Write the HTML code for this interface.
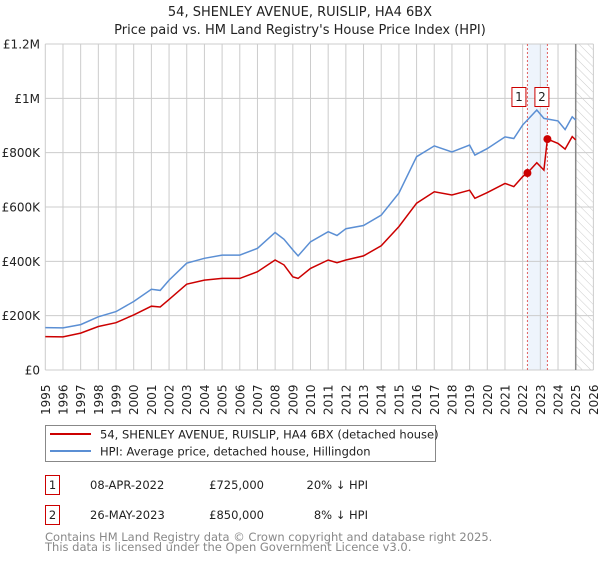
<!DOCTYPE html>
<html><head><meta charset="utf-8"><style>
body{margin:0;background:#fff;font-family:"Liberation Sans","DejaVu Sans",sans-serif;}
svg text{font-family:"DejaVu Sans","Liberation Sans",sans-serif;}
</style></head><body>
<svg id="c" width="600" height="560" viewBox="0 0 600 560" xmlns="http://www.w3.org/2000/svg">
<defs><pattern id="hatch" width="6" height="6" patternUnits="userSpaceOnUse" patternTransform="rotate(-45)"><line x1="0" y1="0" x2="0" y2="6" stroke="#ccc" stroke-width="1"/></pattern></defs>
<text x="300" y="16" text-anchor="middle" font-size="13" fill="#222">54, SHENLEY AVENUE, RUISLIP, HA4 6BX</text>
<text x="300" y="34" text-anchor="middle" font-size="13" fill="#222">Price paid vs. HM Land Registry's House Price Index (HPI)</text>
<g id="grid"></g><g id="marks"></g><g id="axes"></g>
<g>
<rect x="45.5" y="425.5" width="390" height="36" fill="#fff" stroke="#888"/>
<line x1="50" y1="434" x2="91" y2="434" stroke="#cc0000" stroke-width="2"/>
<text x="100" y="438.5" font-size="11.5" fill="#222">54, SHENLEY AVENUE, RUISLIP, HA4 6BX (detached house)</text>
<line x1="50" y1="451" x2="91" y2="451" stroke="#5b8fd4" stroke-width="2"/>
<text x="100" y="455.5" font-size="11.5" fill="#222">HPI: Average price, detached house, Hillingdon</text>
</g>
<g font-size="11.5" fill="#222">
<rect x="45.5" y="475.5" width="14" height="19" fill="#fff" stroke="#cc0000"/><text x="52.5" y="489" text-anchor="middle">1</text>
<text x="90" y="489">08-APR-2022</text><text x="264" y="489" text-anchor="end">£725,000</text><text x="368" y="489" text-anchor="end">20% ↓ HPI</text>
<rect x="45.5" y="505.5" width="14" height="19" fill="#fff" stroke="#cc0000"/><text x="52.5" y="519" text-anchor="middle">2</text>
<text x="90" y="519">26-MAY-2023</text><text x="264" y="519" text-anchor="end">£850,000</text><text x="368" y="519" text-anchor="end">8% ↓ HPI</text>
</g>
<text x="45" y="541" font-size="11.5" fill="#888">Contains HM Land Registry data © Crown copyright and database right 2025.</text>
<text x="45" y="551" font-size="11.5" fill="#888">This data is licensed under the Open Government Licence v3.0.</text>
</svg>
<script>
const hpiYears=[1995,1996,1997,1998,1999,2000,2001,2001.5,2002,2003,2004,2005,2006,2007,2008,2008.5,2009,2009.3,2010,2011,2011.5,2012,2013,2014,2015,2016,2017,2018,2019,2019.3,2020,2021,2021.5,2022,2022.8,2023.2,2024,2024.4,2024.8,2025];
const hpiValues=[156,155,167,196,215,252,297,293,331,393,411,423,423,448,506,481,442,420,472,509,495,520,532,570,651,785,825,803,828,791,815,858,852,902,957,926,917,885,932,920];
const redYears=[1995,1996,1997,1998,1999,2000,2001,2001.5,2002,2003,2004,2005,2006,2007,2008,2008.5,2009,2009.3,2010,2011,2011.5,2012,2013,2014,2015,2016,2017,2018,2019,2019.3,2020,2021,2021.5,2022,2022.27,2022.8,2023.2,2023.4,2024,2024.4,2024.8,2025];
const redValues=[123,122,136,160,174,203,235,232,260,316,331,337,337,362,405,387,343,337,374,405,395,405,420,457,528,614,656,644,662,632,653,687,675,712,725,763,736,850,834,813,859,847];
const saleYears=[2022.27,2023.4];
const saleValues=[725,850];
const yTicks=[0,200,400,600,800,1000,1200];
const yTickLabels=["£0","£200K","£400K","£600K","£800K","£1M","£1.2M"];
const xTicks=[];for(let y=1995;y<=2026;y++)xTicks.push(y);

const X0=45.3,PX=17.68,Y0=370,PY=326/1200;
const sx=v=>X0+(v-1995)*PX, sy=v=>Y0-v*PY;
const NS="http://www.w3.org/2000/svg";
function mk(parent,tag,attrs){const e=document.createElementNS(NS,tag);for(const k in attrs)e.setAttribute(k,attrs[k]);document.getElementById(parent).appendChild(e);return e;}
// shaded band and hatch
let band=mk('grid','rect',{x:sx(saleYears[0]),y:sy(1200),width:sx(saleYears[1])-sx(saleYears[0]),height:Y0-sy(1200),fill:'#eef4fc'});


let hat=mk('grid','rect',{x:sx(2025),y:sy(1200),width:sx(2026)-sx(2025),height:Y0-sy(1200),fill:'url(#hatch)'});


yTicks.forEach((t,i)=>{
 let l=mk('grid','line',{x1:X0,x2:sx(2026),y1:sy(t),y2:sy(t),stroke:'#ccc','stroke-width':1});
 
 
 let tx=mk('axes','text',{x:40,y:sy(t)+4.5,'text-anchor':'end','font-size':12,fill:'#222'});
 tx.textContent=yTickLabels[i];
 
 
});
xTicks.forEach(t=>{
 let l=mk('grid','line',{x1:sx(t),x2:sx(t),y1:sy(1200),y2:Y0,stroke:'#ccc','stroke-width':1});
 
 
 let tx=mk('axes','text',{x:0,y:0,transform:`translate(${sx(t)+4.5},${Y0+45}) rotate(-90)`,'font-size':12,fill:'#222'});
 tx.textContent=t;
 
 
});
let fut=mk('grid','line',{x1:sx(2025),x2:sx(2025),y1:sy(1200),y2:Y0,stroke:'#888','stroke-width':1.5});


saleYears.forEach((s,i)=>{
 let l=mk('grid','line',{x1:sx(s),x2:sx(s),y1:sy(1200),y2:Y0,stroke:'#e06060','stroke-width':1,'stroke-dasharray':'2,2'});
 
 
});
const path=(xs,ys)=>xs.map((x,i)=>(i?'L':'M')+sx(x).toFixed(1)+','+sy(ys[i]).toFixed(1)).join('');
let hp=mk('marks','path',{d:path(hpiYears,hpiValues),fill:'none',stroke:'#5b8fd4','stroke-width':1.5});


let rp=mk('marks','path',{d:path(redYears,redValues),fill:'none',stroke:'#cc0000','stroke-width':1.5});


saleYears.forEach((s,i)=>{
 let c=mk('marks','circle',{cx:sx(s),cy:sy(saleValues[i]),r:4,fill:'#cc0000'});
 
 
 let r=mk('marks','rect',{x:sx(s)-15.5+(i?3:0),y:87.5,width:14,height:19,fill:'#fff',stroke:'#cc0000'});
 
 
 let t=mk('marks','text',{x:sx(s)-8.5+(i?3:0),y:101,'text-anchor':'middle','font-size':12,fill:'#222'});
 t.textContent=String(i+1);
 
 
});
</script>
</body></html>
